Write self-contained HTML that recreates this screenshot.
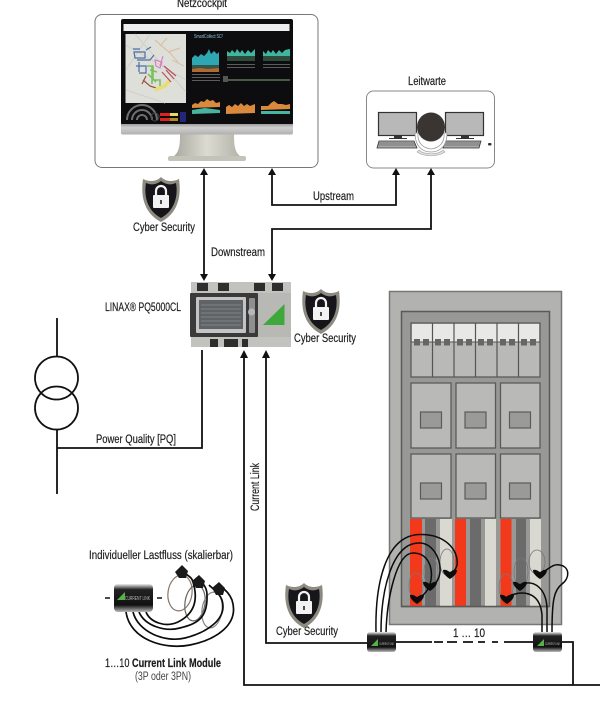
<!DOCTYPE html>
<html><head><meta charset="utf-8"><style>
html,body{margin:0;padding:0;background:#fff}
svg{display:block}
text{font-family:"Liberation Sans",sans-serif;fill:#1c1c1c;font-size:11.5px;stroke:#1c1c1c;stroke-width:.18px}
.t{stroke:none}
</style></head><body>
<svg width="601" height="723" viewBox="0 0 601 723" xmlns="http://www.w3.org/2000/svg">
<defs>
<linearGradient id="st" x1="0" x2="1" y1="0" y2="0"><stop offset="0" stop-color="#a9a99f"/><stop offset=".5" stop-color="#dcdbd2"/><stop offset="1" stop-color="#b4b3aa"/></linearGradient>
<linearGradient id="ch" x1="0" x2="0" y1="0" y2="1"><stop offset="0" stop-color="#9d9d9d"/><stop offset=".35" stop-color="#d0d0d0"/><stop offset="1" stop-color="#b0b0b0"/></linearGradient>
<linearGradient id="mod" x1="0" x2="0" y1="0" y2="1"><stop offset="0" stop-color="#eee"/><stop offset=".2" stop-color="#222"/><stop offset=".75" stop-color="#111"/><stop offset="1" stop-color="#bbb"/></linearGradient>
<g id="shield">
<path d="M-18,-19 C-12,-16 -5,-16 0,-21 C5,-16 12,-16 18,-19 C20,-5 19,14 0,24 C-19,14 -20,-5 -18,-19Z" fill="#8d8a80"/>
<path d="M-15,-15 C-10,-13 -5,-13 0,-17 C5,-13 10,-13 15,-15 C17,-4 15,12 0,20 C-15,12 -17,-4 -15,-15Z" fill="#15151a"/>
<rect x="-8" y="-3" width="16" height="13" rx="1" fill="#f2f2f2"/>
<path d="M-5,-3 V-7 A5,5 0 0 1 5,-7 V-3" fill="none" stroke="#f2f2f2" stroke-width="2.2"/>
<rect x="-.8" y="2" width="1.6" height="4" fill="#222"/>
</g>
<g id="clip"><path d="M-7,-3 C-4,-4 -2,-2 0,-1 C2,-2 4,-4 7,-3 C7,1 3,4 0,6 C-3,4 -7,1 -7,-3Z" fill="#0c0c0c"/></g>
</defs>

<!-- Netzcockpit -->
<text x="177" y="7" textLength="50" lengthAdjust="spacingAndGlyphs">Netzcockpit</text>
<rect x="95" y="14.500" width="223" height="153" rx="7" fill="#fff" stroke="#777" stroke-width="1"/>
<path d="M180,134 H234 C234,146 235,152 240,156 H174 C179,152 180,146 180,134Z" fill="url(#st)"/>
<rect x="168" y="156" width="78" height="5" rx="2" fill="#c4c3ba"/>
<rect x="121" y="19" width="172" height="106" rx="2" fill="#0d0d10"/>
<rect x="121" y="124" width="172" height="10.500" rx="1.500" fill="url(#ch)"/>
<rect x="123.500" y="24" width="166" height="7" fill="#eceeef"/>
<rect x="125.500" y="34" width="60.500" height="69" fill="#dfdfda"/>
<g fill="none" stroke="#cfcfcb" stroke-width="1"><path d="M126,45 L186,80 M135,34 L186,92 M126,90 L165,103 M150,34 L126,70"/></g>
<g fill="none" stroke-width="1.200">
<path d="M134,52 H145 V58 H135Z M137,60 H150 L154,55 M136,66 H146 V73 H139 M146,50 L151,47 M133,49 H140 M139,62 V72" stroke="#4a6fa8"/>
<path d="M147,66 H153 V80 H160 V86 M150,70 L157,72 M148,74 L156,82 M152,66 V84" stroke="#7bc05c" stroke-width="1.600"/>
<path d="M143,80 L150,86 L156,88 M146,76 L142,84" stroke="#9a5040"/>
<path d="M155,90 L165,86 L170,80" stroke="#e8de70" stroke-width="3.500"/>
<path d="M155,60 L162,62 L160,68 L156,66Z M163,56 L160,66" stroke="#d880c8"/>
<path d="M164,66 L176,76 M166,70 L174,79 M162,72 L171,82" stroke="#b85060"/>
<path d="M155,40 L170,53 L178,62 M160,46 L167,38 M168,52 L180,48 M172,60 L184,66" stroke="#d8c0a8"/>
</g>
<g fill="none" stroke="#6f6f72" stroke-width="2">
<path d="M127,120 A15,15 0 0 1 157,120"/><path d="M132,120 A10,10 0 0 1 152,120"/><path d="M137,120 A5,5 0 0 1 147,120"/>
</g>
<circle cx="155" cy="117" r="4" fill="none" stroke="#444"/>
<rect x="160" y="113" width="10" height="3" fill="#d22"/><rect x="170" y="113" width="8" height="3" fill="#e6d96a"/>
<rect x="160" y="118" width="10" height="3" fill="#d22"/><rect x="170" y="118" width="8" height="3" fill="#b58a20"/>
<rect x="180" y="112" width="6" height="10" fill="#25257a"/>
<text class="t" x="194" y="38" textLength="29" lengthAdjust="spacingAndGlyphs" style="fill:#8fc4d8;font-size:5.500px">SmartCollect SC²</text>
<!-- charts -->
<path d="M192,58 L195,55 L198,57 L201,54 L204,56 L207,53 L209,49 L211,54 L214,51 L217,54 L219,52 V65 L192,66Z" fill="#2ea7b3"/>
<path d="M192,65 H219 V69 H192Z" fill="#35564a"/>
<path d="M192,69 L200,68 L208,69 L219,68 V72 H192Z" fill="#b06a30"/>
<path d="M227,51 L230,53 L232,50 L235,53 L237,49 L240,53 L242,50 L245,54 L248,50 L251,53 L255,49 V56 H227Z" fill="#3fb7a0"/>
<path d="M227,56 H255 V61 H227Z" fill="#2e4a3a"/>
<path d="M263,51 L266,54 L268,50 L271,53 L273,50 L276,54 L279,50 L282,53 L285,50 L290,49 V56 H263Z" fill="#3fb7a0"/>
<path d="M263,56 H290 V61 H263Z" fill="#2e4a3a"/>
<g fill="#5c5c5c"><rect x="227" y="64" width="28" height="1"/><rect x="263" y="64" width="27" height="1"/><rect x="227" y="67" width="28" height="1"/><rect x="263" y="67" width="27" height="1"/><rect x="192" y="74" width="28" height="1"/><rect x="192" y="77" width="28" height="1"/><rect x="192" y="80" width="28" height="1"/></g>
<path d="M224,80 H290" stroke="#4a5a48" stroke-width="2"/>
<rect x="223" y="76" width="5" height="6" fill="#555"/>
<path d="M192,105 L195,103 L198,104 L201,101 L204,102 L207,99 L210,101 L213,100 L216,103 L220,102 V107 L192,108Z" fill="#d98a3c"/>
<path d="M192,110 L205,108 L220,110 V113 L192,114Z" fill="#49b3a2"/>
<path d="M226,107 L229,105 L232,107 L235,104 L238,106 L241,103 L244,106 L247,104 L250,106 L255,104 V113 L226,114Z" fill="#d98a3c"/>
<path d="M261,106 L268,106 L271,103 L274,101 L278,104 L282,104 L286,105 L290,104 V109 L261,110Z" fill="#d98a3c"/>
<path d="M261,111 H290 V114 H261Z" fill="#49b3a2"/>

<!-- Leitwarte -->
<text x="408" y="85" textLength="38" lengthAdjust="spacingAndGlyphs">Leitwarte</text>
<rect x="366.500" y="91" width="128" height="77" rx="7" fill="#fff" stroke="#888" stroke-width="1"/>
<g stroke="#333" stroke-width="1.200">
<rect x="378.500" y="112.500" width="38" height="23" fill="#b8b8b8"/>
<rect x="445.500" y="112.500" width="38" height="23" fill="#b8b8b8"/>
</g>
<path d="M394,136 H402 V138 H407 V139 H389 V138 H394Z M461,136 H469 V138 H474 V139 H456 V138 H461Z" fill="#333"/>
<path d="M379,141 H414 L417,148 H377Z M445,141 H481 L479,148 H443Z" fill="#aaa" stroke="#333" stroke-width=".8"/>
<g stroke="#444" stroke-width=".6"><path d="M378,143 H415 M378,145 H416 M444,143 H480 M444,145 H480"/></g>
<rect x="488" y="143" width="3.500" height="2.500" rx="1" fill="#333"/>
<path d="M418,133 C417,143 423,148 431,149 C439,148 445,143 444,133 L447,133 C447,146 440,152 431,152 C422,152 415,146 415,133Z" fill="#fff" stroke="#999" stroke-width=".8"/>
<path d="M419,150 C424,155 438,155 443,150 L445,152 C438,157 424,157 417,152Z" fill="#ddd" stroke="#aaa" stroke-width=".6"/>
<ellipse cx="431" cy="127" rx="14" ry="14.500" fill="#3a3433"/>

<!-- connectors -->
<g stroke="#111" stroke-width="1.800" fill="none">
<path d="M204,173 V276"/>
<path d="M272,173 V205 H396 V173"/>
<path d="M272,276 V229 H431 V173"/>
<path d="M202,350 V448 H57"/>
<path d="M244,356 V685 H600"/>
<path d="M266,356 V643 H367"/>
<path d="M57,318 V357 M57,430 V494"/>
<circle cx="56.500" cy="378" r="21.500"/>
<circle cx="56.500" cy="408" r="21.500"/>
<path d="M396,642 H432 M434,642 H443 M447,642 H457 M463,642 H473 M478,642 H485 M492,642 H498 M504,642 H533 M562,642 H573 V685"/>
</g>
<g fill="#111">
<path d="M204,168 L208,175 H200Z M204,281 L208,274 H200Z"/>
<path d="M272,168 L276,175 H268Z M396,168 L400,175 H392Z M431,168 L435,175 H427Z M272,281 L276,274 H268Z"/>
<path d="M244,350 L248,358 H240Z M266,350 L270,358 H262Z"/>
</g>
<text x="313" y="200" textLength="41" lengthAdjust="spacingAndGlyphs">Upstream</text>
<text x="211" y="256" textLength="54" lengthAdjust="spacingAndGlyphs">Downstream</text>
<text x="96" y="443" textLength="80" lengthAdjust="spacingAndGlyphs">Power Quality [PQ]</text>
<text x="133" y="231" textLength="62" lengthAdjust="spacingAndGlyphs">Cyber Security</text>
<text x="294" y="342" textLength="62" lengthAdjust="spacingAndGlyphs">Cyber Security</text>
<text x="276" y="635" textLength="62" lengthAdjust="spacingAndGlyphs">Cyber Security</text>
<text x="105" y="311" textLength="76" lengthAdjust="spacingAndGlyphs">LINAX® PQ5000CL</text>
<text transform="translate(259,511) rotate(-90)" textLength="48" lengthAdjust="spacingAndGlyphs">Current Link</text>
<use href="#shield" x="161" y="198"/>
<use href="#shield" x="321" y="310"/>
<use href="#shield" x="304" y="604"/>

<!-- device -->
<rect x="191" y="282" width="100" height="65" fill="#c2c2bf"/>
<rect x="191" y="293" width="100" height="44" fill="#b8b8b5"/>
<g fill="#2e2e2e">
<rect x="197" y="283" width="11" height="8"/><rect x="218" y="283" width="11" height="8"/><rect x="254" y="283" width="11" height="8"/><rect x="272" y="283" width="11" height="8"/>
<rect x="210" y="339" width="8" height="8"/><rect x="224" y="339" width="14" height="8"/><rect x="242" y="339" width="6" height="8"/>
</g>
<rect x="190" y="293" width="68" height="44" rx="1" fill="#3a3a3a"/>
<rect x="196" y="297" width="50" height="36" rx="1" fill="#c4c4c4"/>
<rect x="199" y="300" width="44" height="29" fill="#5f6365"/>
<g stroke="#8a8e90" stroke-width=".7"><path d="M201,305 H241 M201,309 H241 M201,313 H241 M201,317 H241 M201,321 H241 M201,325 H241"/></g>
<rect x="249" y="298" width="6" height="35" rx="1" fill="#8f8f8f"/>
<circle cx="251.500" cy="312" r="3.500" fill="#b8b8b8"/>
<path d="M284.500,304 V325 H263Z" fill="#3ea83c"/>

<!-- cabinet -->
<rect x="389.500" y="291.500" width="172" height="333" fill="#b2b2b0" stroke="#777" stroke-width="1.500"/>
<rect x="401.500" y="311.500" width="148" height="295" fill="#989896" stroke="#5a5a58" stroke-width="1.500"/>
<rect x="411" y="323" width="129" height="54" fill="#b9b9b7" stroke="#555" stroke-width="1.200"/>
<rect x="412" y="324" width="127" height="18" fill="#e8e8e6"/>
<path d="M432.500,323 V377 M454,323 V377 M475.500,323 V377 M497,323 V377 M518.500,323 V377" stroke="#555" stroke-width="1.200"/>
<path d="M411,342 H540" stroke="#555" stroke-width="1"/>
<g fill="#666">
<rect x="414" y="339" width="6" height="6.500"/><rect x="423" y="339" width="6" height="6.500"/><rect x="435" y="339" width="6" height="6.500"/><rect x="444" y="339" width="6" height="6.500"/>
<rect x="457" y="339" width="6" height="6.500"/><rect x="466" y="339" width="6" height="6.500"/><rect x="478" y="339" width="6" height="6.500"/><rect x="487" y="339" width="6" height="6.500"/>
<rect x="500" y="339" width="6" height="6.500"/><rect x="509" y="339" width="6" height="6.500"/><rect x="521" y="339" width="6" height="6.500"/><rect x="530" y="339" width="6" height="6.500"/>
</g>
<g fill="#b9b9b7" stroke="#5a5a58" stroke-width="1.300">
<rect x="411" y="383" width="40" height="65"/><rect x="456" y="383" width="39.500" height="65"/><rect x="500.500" y="383" width="39.500" height="65"/>
<rect x="411" y="454" width="40" height="64"/><rect x="456" y="454" width="39.500" height="64"/><rect x="500.500" y="454" width="39.500" height="64"/>
</g>
<g fill="#9a9a98" stroke="#5a5a58" stroke-width="1.200">
<rect x="420.500" y="412" width="21" height="16"/><rect x="465" y="412" width="21" height="16"/><rect x="509.500" y="412" width="21" height="16"/>
<rect x="420.500" y="483" width="21" height="16"/><rect x="465" y="483" width="21" height="16"/><rect x="509.500" y="483" width="21" height="16"/>
</g>
<g>
<rect x="410" y="519" width="12" height="87" fill="#f2391b"/><rect x="425" y="519" width="11" height="87" fill="#6b6b6b"/><rect x="440" y="519" width="12" height="87" fill="#d9d9d2"/>
<rect x="455" y="519" width="11" height="87" fill="#f2391b"/><rect x="470" y="519" width="11" height="87" fill="#6b6b6b"/><rect x="485" y="519" width="11" height="87" fill="#d9d9d2"/>
<rect x="500.500" y="519" width="11" height="87" fill="#f2391b"/><rect x="516" y="519" width="10" height="87" fill="#6b6b6b"/><rect x="530" y="519" width="11" height="87" fill="#d9d9d2"/>
</g>
<path d="M401,606.500 H549" stroke="#5a5a58" stroke-width="1.500"/>

<!-- rogowski on cabinet -->
<g fill="none" stroke="#77777a" stroke-width=".8">
<ellipse cx="416" cy="586" rx="7" ry="13"/><ellipse cx="431" cy="572" rx="7" ry="14"/><ellipse cx="447" cy="562" rx="7" ry="13"/>
<ellipse cx="506" cy="587" rx="7" ry="13"/><ellipse cx="521" cy="572" rx="7" ry="14"/><ellipse cx="537" cy="562" rx="8" ry="12"/>
</g>
<g fill="none" stroke="#0c0c0c" stroke-width="1.500">
<path d="M376,632 C375,585 385,535 420,534.500 C445,534 459,550 457,565 C456,570 453,572 450,573"/>
<path d="M381,632 C381,590 392,544 418,543 C432,542 441,558 440,572 C439,580 436,584 431,586"/>
<path d="M386,632 C387,600 396,553 413,553 C428,553 433,567 431,580 C429,590 424,596 417,598"/>
<path d="M507,597 C520,590 540,590 542,615 V632"/>
<path d="M520,585 C535,578 547,590 547,610 V632"/>
<path d="M540,573 C548,571 552,563 560,565 C570,567 570,578 562,584 C554,590 552,600 552,632"/>
</g>
<use href="#clip" x="417" y="598"/><use href="#clip" x="430" y="585"/><use href="#clip" x="450" y="573"/>
<use href="#clip" x="507" y="598"/><use href="#clip" x="520" y="585"/><use href="#clip" x="540" y="573"/>

<!-- modules -->
<rect x="367" y="632" width="29" height="20" rx="3" fill="url(#mod)"/>
<rect x="533" y="632" width="29" height="20" rx="3" fill="url(#mod)"/>
<path d="M371,646 L378,639 V646Z M537,646 L544,639 V646Z" fill="#58b04a"/>
<text class="t" x="379" y="645" textLength="15" lengthAdjust="spacingAndGlyphs" style="font-size:4px;fill:#bbb">CURRENT LINK</text>
<text class="t" x="545" y="645" textLength="15" lengthAdjust="spacingAndGlyphs" style="font-size:4px;fill:#bbb">CURRENT LINK</text>
<text x="453" y="637" textLength="32" lengthAdjust="spacingAndGlyphs" style="font-size:12px">1 … 10</text>

<!-- lower left -->
<text x="89" y="559" textLength="144" lengthAdjust="spacingAndGlyphs">Individueller Lastfluss (skalierbar)</text>
<g fill="none" stroke-width="1.200">
<ellipse cx="180" cy="593" rx="12" ry="18" stroke="#8a7468" transform="rotate(8 180 593)"/>
<ellipse cx="195" cy="603" rx="10" ry="18" stroke="#666" transform="rotate(8 195 603)"/>
<ellipse cx="212" cy="610" rx="10" ry="18" stroke="#888" transform="rotate(8 212 610)"/>
</g>
<g fill="none" stroke="#0c0c0c" stroke-width="1.700">
<path d="M126,612 C130,640 165,650 190,645 C215,640 240,625 232,600 C230,595 226,590 221,587"/>
<path d="M133,612 C138,632 165,643 185,638 C205,633 228,620 222,600 C220,594 214,590 209,585"/>
<path d="M139,612 C145,626 165,632 180,628 C195,624 208,620 207,595 C207,588 203,583 199,580"/>
<path d="M146,612 C150,622 165,628 178,622 C190,616 200,605 193,582 C192,578 190,577 186,574"/>
</g>
<path d="M175,572 L182,565 L188,571 L186,578 L179,578Z M192,581 L199,575 L205,581 L203,588 L196,588Z M212,588 L219,582 L225,588 L223,595 L216,595Z" fill="#1a1a1a"/>
<rect x="114" y="584" width="39" height="28" rx="4" fill="url(#mod)"/>
<path d="M117,600 L125,592 V600Z" fill="#58b04a"/>
<text class="t" x="125" y="600" textLength="25" lengthAdjust="spacingAndGlyphs" style="font-size:5px;fill:#bbb">CURRENT LINK</text>
<path d="M105,598 H110 M157,598 H162" stroke="#111" stroke-width="1.600"/>
<text x="105" y="667" textLength="116" lengthAdjust="spacingAndGlyphs">1…10 <tspan font-weight="bold">Current Link Module</tspan></text>
<text class="t" x="135" y="680" textLength="56" lengthAdjust="spacingAndGlyphs" style="fill:#444">(3P oder 3PN)</text>
</svg>
</body></html>
